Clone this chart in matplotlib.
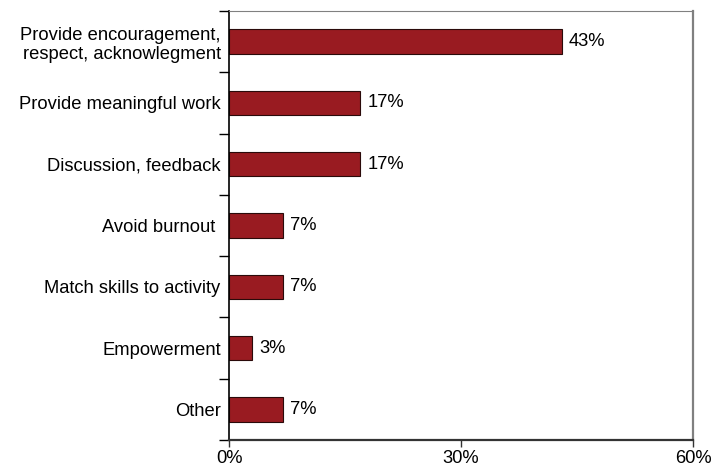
import numpy as np
import matplotlib
matplotlib.use("Agg")
import matplotlib.pyplot as plt

plt.rcParams["font.family"] = ["Liberation Sans", "DejaVu Sans"]

categories = [
    "Provide encouragement,\nrespect, acknowlegment",
    "Provide meaningful work",
    "Discussion, feedback",
    "Avoid burnout ",
    "Match skills to activity",
    "Empowerment",
    "Other",
]
percent = [43, 17, 17, 7, 7, 3, 7]
x_ticks = [0, 30, 60]

FS = 13.2

fig = plt.figure(figsize=(7.22, 4.68), dpi=100)
ax = fig.add_axes([229 / 722, 28 / 468, 464 / 722, 429 / 468])

y = np.arange(len(categories))
bars = ax.barh(y, percent, height=0.4, color="#991B21",
               edgecolor="#2a0a0a", linewidth=0.8)

for bar, v in zip(bars, percent):
    ax.text(bar.get_width() + 0.9, bar.get_y() + bar.get_height() / 2,
            f"{v}%", va="center", ha="left", fontsize=FS)

ax.set_xlim(0, 60)
ax.set_ylim(len(categories) - 0.5, -0.5)

ax.set_xticks(x_ticks)
ax.set_xticklabels([f"{t}%" for t in x_ticks], fontsize=FS)
ax.tick_params(axis="x", direction="out", length=5, width=1, pad=2, colors="#333333")
for lbl in ax.get_xticklabels():
    lbl.set_color("black")

# category labels at centres, separator ticks at the boundaries
ax.set_yticks(y)
ax.set_yticklabels(categories, fontsize=FS, linespacing=1.2)
ax.tick_params(axis="y", which="major", length=0, pad=6)
ax.set_yticks(np.arange(len(categories) + 1) - 0.5, minor=True)
ax.tick_params(axis="y", which="minor", direction="out", length=7, width=1, color="black")

ax.spines["left"].set_color("black")
ax.spines["left"].set_linewidth(1.2)
ax.spines["bottom"].set_color("#333333")
ax.spines["bottom"].set_linewidth(1.6)
ax.spines["top"].set_color("#808080")
ax.spines["right"].set_color("#808080")
ax.spines["right"].set_linewidth(1.6)

fig.savefig("out.png", dpi=100)
